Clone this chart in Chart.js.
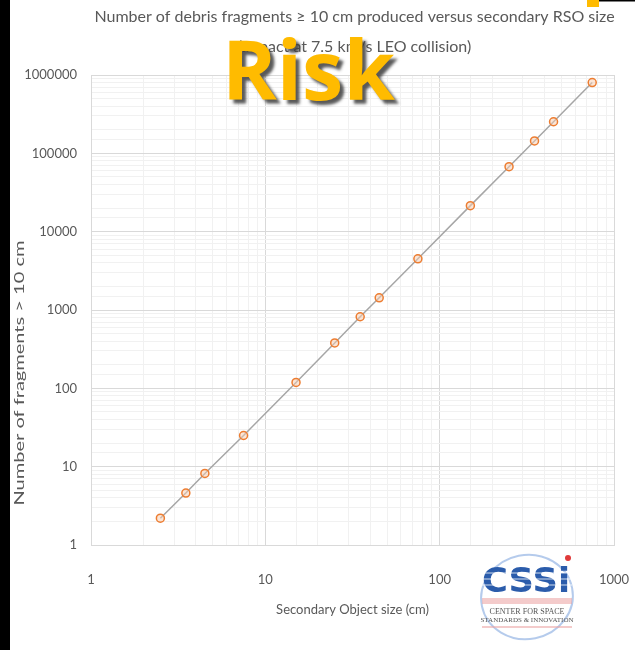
<!DOCTYPE html>
<html>
<head>
<meta charset="utf-8">
<script src="https://cdn.jsdelivr.net/npm/chart.js@4"></script>
<style>
  html, body { margin: 0; padding: 0; background: #ffffff; }
  #wrap { position: relative; width: 635px; height: 650px; }
  canvas { display: block; }
</style>
</head>
<body>
<div id="wrap"><canvas id="c" width="635" height="650"></canvas></div>
<script>
// Secondary object size (cm)
const sizes = [2.5, 3.5, 4.5, 7.5, 15, 25, 35, 45, 75, 150, 250, 350, 450, 750];
// Number of fragments >= 10 cm
const fragments = [2.2, 4.6, 8.2, 25, 119, 380, 820, 1430, 4500, 21500, 67500, 144000, 253000, 800000];
// Labelled decades on each axis
const xTickLabels = [1, 10, 100, 1000];
const yTickLabels = [1, 10, 100, 1000, 10000, 100000, 1000000];

const titleLines = [
  'Number of debris fragments \u2265 10 cm produced versus secondary RSO size',
  '(impact at 7.5 km/s LEO collision)'
];
const xTitle = 'Secondary Object size (cm)';
const yTitle = 'Number of fragments > 10 cm';

const textGrey = '#595959';
const labelFont = '13px Lato';

function isLabelled(list, v) {
  return list.some(t => Math.abs(t - v) / t < 1e-9);
}

const decor = {
  id: 'decor',
  afterDraw(chart) {
    const ctx = chart.ctx;
    const a = chart.chartArea;
    const cx = (a.left + a.right) / 2;
    ctx.save();

    // chart title
    ctx.fillStyle = textGrey;
    ctx.font = '16px Lato';
    ctx.textAlign = 'center';
    ctx.textBaseline = 'middle';
    ctx.fillText(titleLines[0], cx + 2, 17);
    ctx.fillText(titleLines[1], cx + 2, 47);

    // x axis title
    ctx.font = labelFont;
    ctx.fillText(xTitle, cx, 610);

    // y axis title, stretched along its length
    ctx.save();
    ctx.translate(20, 373);
    ctx.rotate(-Math.PI / 2);
    const w = ctx.measureText(yTitle).width;
    ctx.scale(265 / w, 1);
    ctx.fillText(yTitle, 0, 0);
    ctx.restore();

    // slide edge decorations
    ctx.fillStyle = '#000000';
    ctx.fillRect(0, 0, 10, 650);
    ctx.fillRect(598, 0, 37, 1.5);
    ctx.fillStyle = '#FFBB00';
    ctx.fillRect(587, 0, 12, 7);

    // "Risk" heading
    ctx.font = 'bold 83px "Open Sans"';
    ctx.textAlign = 'left';
    ctx.textBaseline = 'alphabetic';
    ctx.shadowColor = 'rgba(60,60,60,0.85)';
    ctx.shadowOffsetX = 4;
    ctx.shadowOffsetY = 4;
    ctx.shadowBlur = 3;
    ctx.fillStyle = '#FFBB00';
    ctx.fillText('Risk', 222, 100);
    ctx.shadowColor = 'transparent';

    // CSSI logo
    ctx.strokeStyle = 'rgba(120,160,220,0.55)';
    ctx.lineWidth = 2;
    ctx.beginPath();
    ctx.ellipse(527, 597, 46, 42, -0.2, 0, Math.PI * 2);
    ctx.stroke();

    ctx.fillStyle = 'rgba(235,160,160,0.55)';
    ctx.fillRect(482, 598, 90, 6);
    ctx.fillRect(482, 626, 90, 2);

    ctx.fillStyle = '#2B5CAB';
    ctx.font = 'bold 34px "DejaVu Sans"';
    ctx.textBaseline = 'alphabetic';
    const lw = ctx.measureText('CSSi').width;
    ctx.save();
    ctx.translate(482, 592);
    ctx.scale(88 / lw, 1);
    ctx.fillText('CSSi', 0, 0);
    ctx.restore();
    ctx.strokeStyle = 'rgba(255,255,255,0.8)';
    ctx.lineWidth = 1.2;
    [573, 579, 585].forEach(y => {
      ctx.beginPath(); ctx.moveTo(480, y); ctx.lineTo(572, y); ctx.stroke();
    });

    ctx.fillStyle = '#E03A3A';
    ctx.beginPath();
    ctx.arc(568, 558, 3, 0, Math.PI * 2);
    ctx.fill();

    ctx.fillStyle = '#555555';
    ctx.textAlign = 'center';
    ctx.textBaseline = 'middle';
    ctx.font = '8px "Liberation Serif"';
    ctx.fillText('CENTER FOR SPACE', 527, 612);
    ctx.font = '7px "Liberation Serif"';
    ctx.fillText('STANDARDS & INNOVATION', 527, 620);

    ctx.restore();
  }
};

function gridColor(list) {
  return c => (c.tick && isLabelled(list, c.tick.value)) ? '#d9d9d9' : '#f1f1f1';
}

new Chart(document.getElementById('c'), {
  type: 'scatter',
  data: {
    datasets: [{
      data: sizes.map((s, i) => ({ x: s, y: fragments[i] })),
      showLine: true,
      borderColor: '#A6A6A6',
      borderWidth: 1.5,
      pointRadius: 4,
      pointBorderWidth: 1.5,
      pointBorderColor: '#ED7D31',
      pointBackgroundColor: 'rgba(248,203,173,0.5)'
    }]
  },
  options: {
    responsive: false,
    devicePixelRatio: 1,
    animation: false,
    layout: { padding: { top: 75, right: 21, left: 0, bottom: 0 } },
    plugins: { legend: { display: false }, tooltip: { enabled: false }, title: { display: false } },
    scales: {
      x: {
        type: 'logarithmic',
        min: 1, max: 1000,
        afterFit: s => { s.height = 105; s.paddingLeft = 0; s.paddingRight = 0; },
        border: { color: '#d9d9d9' },
        grid: { color: gridColor(xTickLabels), drawTicks: false },
        ticks: {
          autoSkip: false, maxRotation: 0, padding: 27,
          color: textGrey, font: { family: 'Lato', size: 13 },
          callback: v => isLabelled(xTickLabels, v) ? String(v) : ''
        }
      },
      y: {
        type: 'logarithmic',
        min: 1, max: 1000000,
        afterFit: s => { s.width = 91; },
        border: { color: '#d9d9d9' },
        grid: { color: gridColor(yTickLabels), drawTicks: false },
        ticks: {
          autoSkip: false, padding: 14,
          color: textGrey, font: { family: 'Lato', size: 13 },
          callback: v => isLabelled(yTickLabels, v) ? String(v) : ''
        }
      }
    }
  },
  plugins: [decor]
});
</script>
</body>
</html>
